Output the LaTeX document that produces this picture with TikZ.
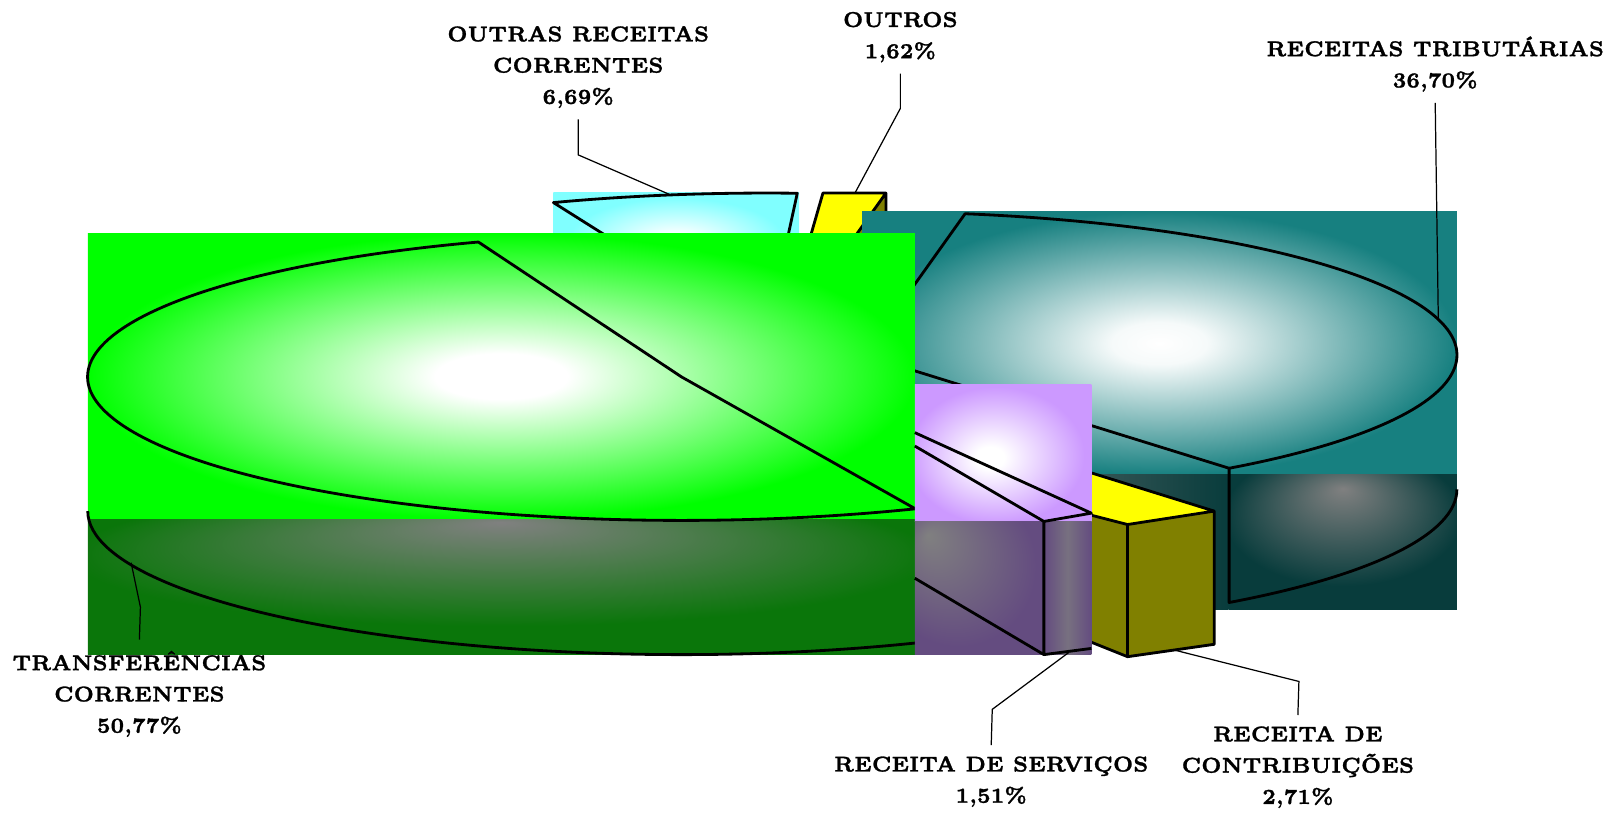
\documentclass[tikz,border=0pt]{standalone}
\usepackage{fontspec}
\usepackage{xcolor}
\usepackage{tikz}

\newfontfamily\lblfont{Latin Modern Roman}[FakeStretch=0.92, BoldFeatures={FakeBold=1.2}]

\definecolor{slgreen}{RGB}{0,255,0}
\definecolor{slteal}{RGB}{23,128,128}
\definecolor{slcyan}{RGB}{128,255,255}
\definecolor{slpurple}{RGB}{204,153,255}
\definecolor{slyellow}{RGB}{255,255,0}
\definecolor{slolive}{RGB}{128,128,0}
\definecolor{dkgreen}{RGB}{10,118,10}
\definecolor{dkteal}{RGB}{8,60,60}
\definecolor{dkpurple}{RGB}{100,76,128}
\definecolor{midgray}{RGB}{128,128,128}

\pgfdeclareradialshading{litgreen}{\pgfpointorigin}{color(0bp)=(white); color(4bp)=(white); color(25bp)=(slgreen); color(50bp)=(slgreen)}
\pgfdeclareradialshading{litteal}{\pgfpointorigin}{color(0bp)=(white); color(4bp)=(white!96!slteal); color(25bp)=(slteal); color(50bp)=(slteal)}
\pgfdeclareradialshading{litcyan}{\pgfpointorigin}{color(0bp)=(white); color(3bp)=(white); color(22bp)=(slcyan); color(50bp)=(slcyan)}
\pgfdeclareradialshading{litpurple}{\pgfpoint{-4bp}{-2bp}}{color(0bp)=(white); color(4bp)=(white); color(25bp)=(slpurple); color(50bp)=(slpurple)}
\pgfdeclareradialshading{dimgreen}{\pgfpoint{0bp}{24bp}}{color(0bp)=(midgray); color(26bp)=(dkgreen); color(50bp)=(dkgreen)}
\pgfdeclareradialshading{dimteal}{\pgfpoint{0bp}{20bp}}{color(0bp)=(midgray); color(26bp)=(dkteal); color(50bp)=(dkteal)}
\pgfdeclarehorizontalshading{dimtealcut}{100bp}{color(0bp)=(midgray); color(25bp)=(midgray); color(75bp)=(dkteal); color(100bp)=(dkteal)}
\pgfdeclareradialshading{dimpurplecut}{\pgfpoint{-20bp}{20bp}}{color(0bp)=(midgray); color(30bp)=(dkpurple); color(50bp)=(dkpurple)}
\pgfdeclarehorizontalshading{dimpurple}{100bp}{color(0bp)=(dkpurple); color(25bp)=(dkpurple); color(50bp)=(midgray!70!dkpurple); color(75bp)=(dkpurple); color(100bp)=(dkpurple)}

\begin{document}
\begin{tikzpicture}[x=0.010325cm, y=-0.010325cm,
    edge/.style={draw=black, line width=0.8pt, line join=round},
    leader/.style={draw=black, line width=0.35pt},
    lbl/.style={align=center, inner sep=3pt, font=\lblfont\fontsize{6.1}{8.9}\selectfont\bfseries}
]
    \useasboundingbox (0,0) rectangle (1568,788);

    % slices, back to front
    \shade[shading=litcyan] (536,186) rectangle (774,280);
    \draw[edge] (742,326) -- (536,196.2) arc[start angle=249, end angle=273, x radius=575, y radius=139] -- cycle;

    \fill[slyellow] (797,187) -- (858,187) -- (806,260) -- (776,260) -- cycle;
    \fill[slolive] (858,187) -- (858,260) -- (806,260) -- cycle;
    \draw[edge] (776,260) -- (797,187) -- (858,187) -- (806,260) (858,187) -- (858,260);

    \shade[shading=litteal] (835,205) rectangle (1411,460);
    \shade[shading=dimtealcut] (835,460) rectangle (1190,590);
    \shade[shading=dimteal] (1190,460) rectangle (1411,590);
    \draw[edge] (837,344) -- (934.7,207) arc[start angle=-80.2, end angle=52, x radius=574, y radius=139] -- cycle;
    \draw[edge] (1411,474) arc[start angle=0, end angle=52, x radius=574, y radius=139] -- (1190.4,453.5);

    \fill[slyellow] (1057,458) -- (1176,495) -- (1092,508) -- (1057,499) -- cycle;
    \fill[slolive] (1057,499) -- (1092,508) -- (1176,495) -- (1176,624) -- (1092,636) -- (1057,622) -- cycle;
    \draw[edge] (1057,458) -- (1176,495) -- (1092,508) -- (1057,499) (1176,495) -- (1176,624) -- (1092,636) -- (1057,622) (1092,508) -- (1092,636);

    \shade[shading=litgreen] (85,226) rectangle (886,503);
    \shade[shading=dimgreen] (85,503) rectangle (886,634);
    \draw[edge] (660,365) -- (463.3,234.4) arc[start angle=250, end angle=66.8, x radius=575, y radius=139] -- cycle;
    \draw[edge] (85,495) arc[start angle=180, end angle=66.8, x radius=575, y radius=139];

    \shade[shading=litpurple] (886,372) rectangle (1057,505);
    \shade[shading=dimpurplecut] (886,505) rectangle (1011,634);
    \shade[shading=dimpurple] (1011,505) rectangle (1057,634);
    \draw[edge] (886,419) -- (1057,497) -- (1011,505) -- (886,432) (1011,505) -- (1011,634) -- (1057,628) (886,560) -- (1011,634);

    % labels
    \node[lbl] (lblOutras) at (560,65) {OUTRAS RECEITAS\\CORRENTES\\6,69\%};
    \node[lbl] (lblOutros) at (872,36) {OUTROS\\1,62\%};
    \node[lbl] (lblTrib) at (1390,62) {RECEITAS TRIBUTÁRIAS\\36,70\%};
    \node[lbl] (lblTransf) at (135,672) {TRANSFERÊNCIAS\\CORRENTES\\50,77\%};
    \node[lbl] (lblServ) at (960,757) {RECEITA DE SERVIÇOS\\1,51\%};
    \node[lbl] (lblContr) at (1257,743) {RECEITA DE\\CONTRIBUIÇÕES\\2,71\%};

    \coordinate (tipOutras) at (650,189);
    \coordinate (tipOutros) at (828,187);
    \coordinate (tipTrib) at (1393,309);
    \coordinate (tipTransf) at (127,545);
    \coordinate (tipServ) at (1035,632);
    \coordinate (tipContr) at (1139,630);

    \draw[leader] (lblOutras.south) -- (560,150) -- (tipOutras);
    \draw[leader] (lblOutros.south) -- (872,105) -- (tipOutros);
    \draw[leader] (lblTrib.south) -- (tipTrib);
    \draw[leader] (lblTransf.north) -- (136,588) -- (tipTransf);
    \draw[leader] (lblServ.north) -- (961,687) -- (tipServ);
    \draw[leader] (lblContr.north) -- (1258,660) -- (tipContr);
\end{tikzpicture}
\end{document}
